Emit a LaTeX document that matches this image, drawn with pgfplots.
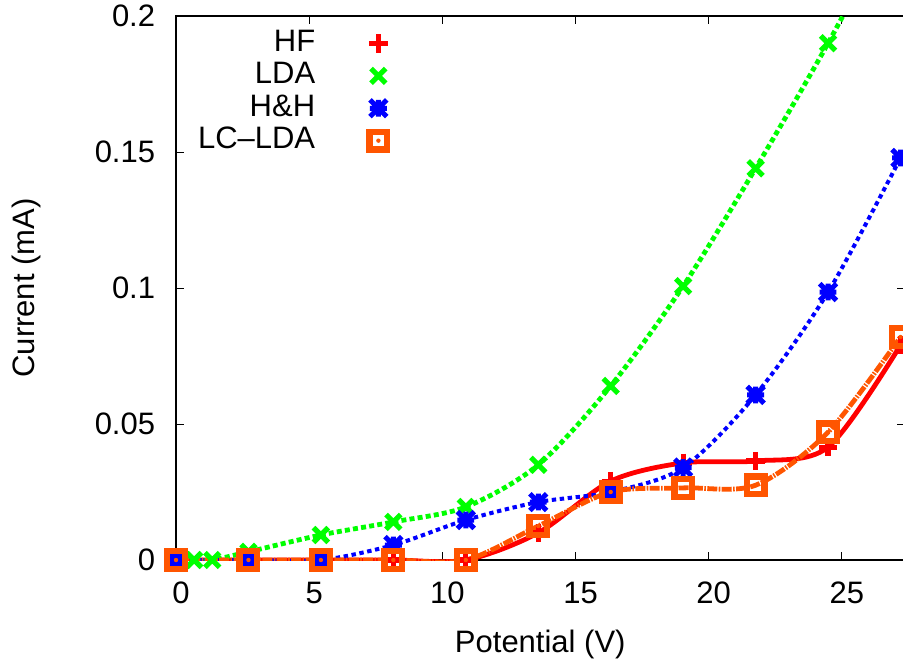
\documentclass[border=0pt]{standalone}
\usepackage{fontspec}
\setmainfont{Liberation Sans}
\usepackage{pgfplots}
\pgfplotsset{compat=1.18}
\definecolor{hfred}{HTML}{FF0000}
\definecolor{ldagreen}{HTML}{00FF00}
\definecolor{hhblue}{HTML}{0000FF}
\definecolor{lcorange}{HTML}{FF5500}

\pgfdeclareplotmark{gpstar}{%
  \pgfpathmoveto{\pgfqpoint{-\pgfplotmarksize}{0pt}}\pgfpathlineto{\pgfqpoint{\pgfplotmarksize}{0pt}}%
  \pgfpathmoveto{\pgfqpoint{0pt}{-\pgfplotmarksize}}\pgfpathlineto{\pgfqpoint{0pt}{\pgfplotmarksize}}%
  \pgfpathmoveto{\pgfqpoint{-\pgfplotmarksize}{-\pgfplotmarksize}}\pgfpathlineto{\pgfqpoint{\pgfplotmarksize}{\pgfplotmarksize}}%
  \pgfpathmoveto{\pgfqpoint{-\pgfplotmarksize}{\pgfplotmarksize}}\pgfpathlineto{\pgfqpoint{\pgfplotmarksize}{-\pgfplotmarksize}}%
  \pgfusepathqstroke}
\pgfdeclareplotmark{sqdot}{%
  \pgfpathrectangle{\pgfqpoint{-\pgfplotmarksize}{-\pgfplotmarksize}}{\pgfqpoint{2\pgfplotmarksize}{2\pgfplotmarksize}}%
  \pgfusepathqstroke
  \pgfpathcircle{\pgfpointorigin}{1.1pt}\pgfusepathqfill}

\newcommand\fs{\fontsize{15.5}{18}\selectfont}

\begin{document}
\begin{tikzpicture}
\begin{axis}[
  at={(0pt,0pt)}, anchor=south west,
  scale only axis, width=364.25pt, height=272pt,
  xmin=0, xmax=27.35, ymin=0, ymax=0.2,
  xtick={0,5,10,15,20,25}, xticklabels={0,5,10,15,20,25},
  ytick={0,0.05,0.1,0.15,0.2}, yticklabels={0,0.05,0.1,0.15,0.2},
  scaled y ticks=false,
  tick align=inside, major tick length=4pt,
  tick style={black, line width=0.5pt},
  axis line style={line width=1pt},
  ticklabel style={font=\fs},
  xticklabel style={anchor=base, inner sep=0pt, yshift=-21.5pt, xshift=2.5pt},
  yticklabel style={anchor=east, inner sep=0pt, xshift=-10.25pt},
  xlabel={Potential (V)}, ylabel={Current (mA)},
  label style={font=\fs},
  xlabel style={at={(axis description cs:0.5,-0.1544)}, anchor=center},
  ylabel style={at={(axis description cs:-0.205,0.5)}, anchor=center},
  legend plot pos=right,
  legend cell align=right,
  legend style={draw=none, fill=none, font=\fs,
    at={(axis description cs:0.291,0.976)}, anchor=north east,
    inner sep=0pt, column sep=27pt, row sep=2.2pt,
    nodes={inner sep=0pt, text height=11pt, text depth=3pt}},
]
% HF
\addplot[hfred, line width=2.4pt, smooth, forget plot] coordinates {
 (0,0) (2.72,0) (5.44,0) (8.16,0) (10.88,0) (13.6,0.010) (16.32,0.029)
 (19.04,0.0357) (21.76,0.0364) (24.48,0.0415) (27.2,0.079)};
\addplot[hfred, only marks, mark=+, mark size=4.6pt, mark options={line width=2.6pt}] coordinates {
 (0,0) (2.72,0) (5.44,0) (8.16,0) (10.88,0) (13.6,0.010) (16.32,0.029)
 (19.04,0.0357) (21.76,0.0364) (24.48,0.0415) (27.2,0.079)};
\addlegendentry{HF}
% LDA
\addplot[ldagreen, line width=2.4pt, dash pattern=on 2.5pt off 1.6pt, smooth, forget plot] coordinates {
 (0,0) (0.68,0) (1.36,0) (2.72,0.003) (5.44,0.0092) (8.16,0.014) (10.88,0.0195)
 (13.6,0.035) (16.32,0.064) (19.04,0.1007) (21.76,0.144) (24.48,0.190) (27.2,0.24)};
\addplot[ldagreen, only marks, mark=x, mark size=5.2pt, mark options={line width=2.6pt}] coordinates {
 (0,0) (0.68,0) (1.36,0) (2.72,0.003) (5.44,0.0092) (8.16,0.014) (10.88,0.0195)
 (13.6,0.035) (16.32,0.064) (19.04,0.1007) (21.76,0.144) (24.48,0.190)};
\addlegendentry{LDA}
% H&H
\addplot[hhblue, line width=2pt, dash pattern=on 2.2pt off 1.8pt, smooth, forget plot] coordinates {
 (0,0) (2.72,0) (5.44,0) (8.16,0.0055) (10.88,0.0147) (13.6,0.0213) (16.32,0.025)
 (19.04,0.034) (21.76,0.0607) (24.48,0.0985) (27.2,0.1478)};
\addplot[hhblue, only marks, mark=gpstar, mark size=4.2pt, mark options={line width=2.5pt}] coordinates {
 (0,0) (2.72,0) (5.44,0) (8.16,0.0055) (10.88,0.0147) (13.6,0.0213) (16.32,0.025)
 (19.04,0.034) (21.76,0.0607) (24.48,0.0985) (27.2,0.1478)};
\addlegendentry{H\&H}
% LC-LDA
\addplot[lcorange, line width=2.4pt, dash pattern=on 5pt off 0.7pt on 0.8pt off 0.7pt, smooth, forget plot] coordinates {
 (0,0) (2.72,0) (5.44,0) (8.16,0) (10.88,0) (13.6,0.0125) (16.32,0.025)
 (19.04,0.0265) (21.76,0.0275) (24.48,0.047) (27.2,0.082)};
\addplot[lcorange, only marks, mark=sqdot, mark size=4.4pt, mark options={line width=3.2pt, fill=lcorange}] coordinates {
 (0,0) (2.72,0) (5.44,0) (8.16,0) (10.88,0) (13.6,0.0125) (16.32,0.025)
 (19.04,0.0265) (21.76,0.0275) (24.48,0.047) (27.2,0.082)};
\addlegendentry{LC–LDA}
\end{axis}
\pgfresetboundingbox
\path[use as bounding box] (-88pt,-49.5pt) rectangle (363.5pt,280pt);
\end{tikzpicture}
\end{document}
